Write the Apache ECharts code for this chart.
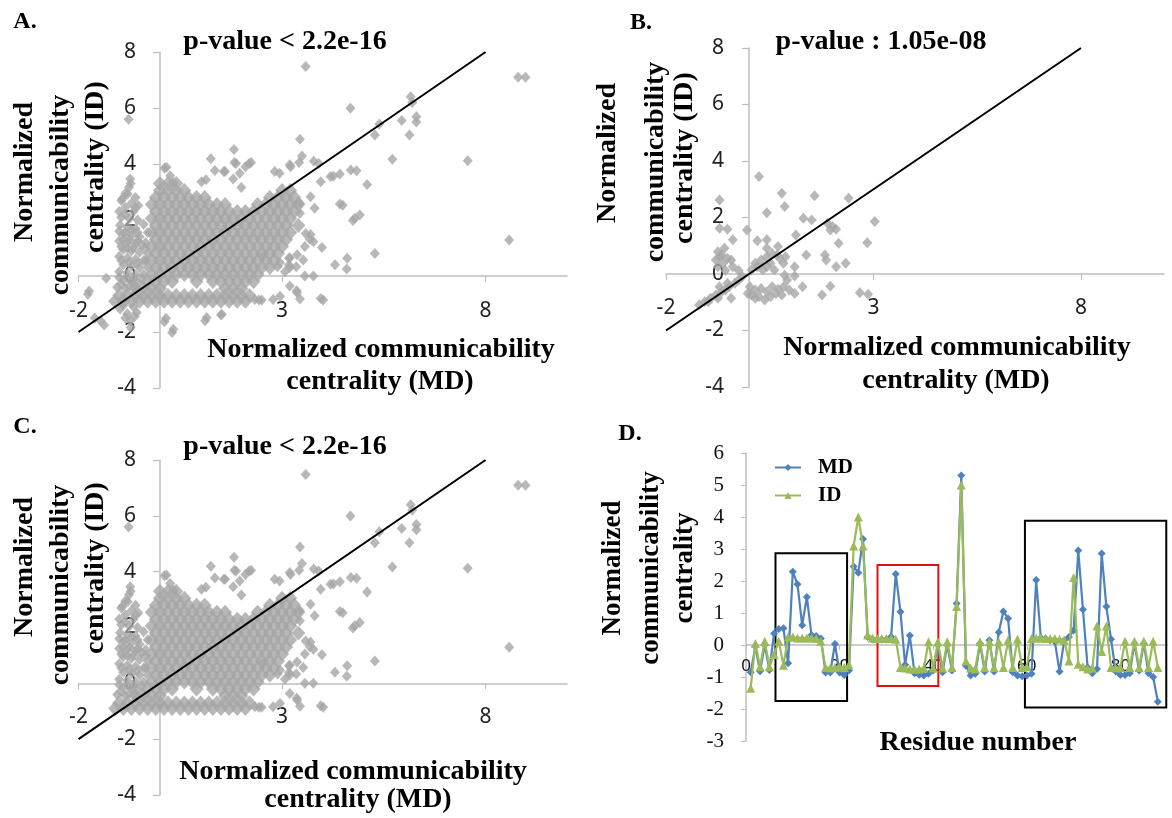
<!DOCTYPE html>
<html><head><meta charset="utf-8">
<script src="https://cdn.jsdelivr.net/npm/echarts@6.0.0/dist/echarts.min.js"></script>
<style>html,body{margin:0;padding:0;background:#fff}#c{width:1172px;height:818px}</style>
</head><body><div id="c"></div>
<script>
// ---------- Panel A / C : dense cloud rows (y level -> x values)
const cloudY = [3.3, 3.05, 2.8, 2.55, 2.3, 2.05, 1.8, 1.55, 1.3, 1.05, 0.8, 0.55, 0.3, 0.05, -0.2, -0.45, -0.7, -0.9];
const cloudX = [
  [0.0, 0.2, 0.4],
  [0.0, 0.2, 0.4, 0.6, 3.0, 3.2],
  [-0.1, 0.1, 0.3, 0.5, 0.7, 0.9, 1.1, 2.7, 2.9, 3.1, 3.3],
  [-0.2, 0.0, 0.2, 0.4, 0.6, 0.8, 1.0, 1.2, 1.4, 1.6, 2.4, 2.6, 2.8, 3.0, 3.2, 3.4],
  [-0.1, 0.1, 0.3, 0.5, 0.7, 0.9, 1.1, 1.3, 1.5, 1.7, 1.9, 2.1, 2.3, 2.5, 2.7, 2.9, 3.1, 3.3],
  [-0.2, 0.0, 0.2, 0.4, 0.6, 0.8, 1.0, 1.2, 1.4, 1.6, 1.8, 2.0, 2.2, 2.4, 2.6, 2.8, 3.0, 3.2],
  [-0.1, 0.1, 0.3, 0.5, 0.7, 0.9, 1.1, 1.3, 1.5, 1.7, 1.9, 2.1, 2.3, 2.5, 2.7, 2.9, 3.1, 3.4],
  [-0.2, 0.0, 0.2, 0.4, 0.6, 0.8, 1.0, 1.2, 1.4, 1.6, 1.8, 2.0, 2.2, 2.4, 2.6, 2.8, 3.0, 3.2],
  [-0.1, 0.1, 0.3, 0.5, 0.7, 0.9, 1.1, 1.3, 1.5, 1.7, 1.9, 2.1, 2.3, 2.5, 2.7, 2.9, 3.1],
  [-0.2, 0.0, 0.2, 0.4, 0.6, 0.8, 1.0, 1.2, 1.4, 1.6, 1.8, 2.0, 2.2, 2.4, 2.6, 2.8, 3.0],
  [-0.1, 0.1, 0.3, 0.5, 0.7, 0.9, 1.1, 1.3, 1.5, 1.7, 1.9, 2.1, 2.3, 2.5, 2.7, 2.9],
  [-0.2, 0.0, 0.2, 0.4, 0.6, 0.8, 1.0, 1.2, 1.4, 1.6, 1.8, 2.0, 2.2, 2.4, 2.6, 2.8],
  [-0.1, 0.1, 0.3, 0.5, 0.7, 0.9, 1.1, 1.3, 1.5, 1.7, 1.9, 2.1, 2.3, 2.5, 2.7],
  [-0.2, 0.0, 0.2, 0.4, 0.6, 0.8, 1.0, 1.2, 1.4, 1.6, 1.8, 2.0, 2.2, 2.4],
  [-0.3, -0.1, 0.1, 0.3, 0.9, 1.3, 1.5, 1.7, 1.9, 2.1, 2.3],
  [-0.6, -0.4, -0.2, 0.0, 1.6, 1.8, 2.0],
  [-1.0, -0.8, -0.6, -0.4, -0.2, 0.0, 0.2, 0.4, 0.6, 0.8, 1.0, 1.2, 1.4, 1.6, 1.8, 2.0, 2.2],
  [-1.1, -0.9, -0.7, -0.5, -0.3, -0.1, 0.1, 0.3, 0.5, 0.7, 0.9, 1.1, 1.3, 1.5, 1.7, 1.9, 2.1]
];
const leftSmear = [[-0.77,5.6],[-0.73,3.46],[-0.72,3.3],[-0.76,3.17],[-0.79,2.93],[-0.92,2.76],[-0.95,2.7],[-0.53,2.52],[-0.85,2.45],[-0.65,2.3],[-0.95,2.1],[-0.75,2.05],[-0.55,2.0],[-0.98,1.81],[-0.8,1.75],[-0.6,1.7],[-0.9,1.5],[-0.7,1.45],[-0.5,1.4],[-1.0,1.25],[-0.8,1.2],[-0.6,1.15],[-0.9,0.95],[-0.7,0.9],[-0.5,0.85],[-0.3,0.8],[-1.0,0.7],[-0.8,0.65],[-0.6,0.6],[-0.4,0.55],[-0.9,0.4],[-0.7,0.35],[-0.5,0.3],[-0.3,0.3],[-1.0,0.15],[-0.8,0.1],[-0.6,0.05],[-0.4,0.05],[-0.9,-0.15],[-0.7,-0.2],[-0.55,-0.25],[-1.05,-0.4],[-0.85,-0.45],
  [-1.0,2.3],[-0.85,2.2],[-0.7,2.6],[-0.6,2.45],[-1.0,1.6],[-0.85,1.55],[-0.7,1.65],[-0.55,1.55],[-0.95,1.05],[-0.8,1.0],[-0.65,1.0],[-0.45,1.1],[-0.35,1.2],[-0.95,0.55],[-0.75,0.5],[-0.55,0.45],[-0.35,0.55],[-1.0,-0.05],[-0.8,-0.05],[-0.65,-0.1],[-0.45,-0.1],[-0.95,-0.3],[-0.75,-0.35],[-0.6,-0.45],[-0.4,1.85],[-0.35,1.0],[-0.3,1.55],[-0.85,2.95],[-0.6,2.8],[-0.9,1.3],[-0.75,1.3],[-0.55,1.25]];
const sharedOutliers = [[3.58,7.48],[8.8,7.1],[8.98,7.1],[6.16,6.4],[6.2,6.2],[4.68,5.99],[5.39,5.43],[5.28,5.04],[5.94,5.55],[6.3,5.69],[6.3,5.5],[6.13,5.04],[3.44,4.88],[5.71,4.17],[7.56,4.12],[8.58,1.29],[1.82,4.52],[1.25,4.19],[1.83,4.05],[2.24,4.05],[1.35,3.77],[1.6,3.73],[1.13,3.44],[1.8,3.46],[2.0,3.16],[2.82,3.73],[3.19,3.97],[3.42,4.05],[3.78,4.1],[3.49,4.29],[3.9,4.02],[0.16,3.88],[0.25,3.58],[0.33,3.34],[3.95,3.37],[4.19,3.55],[4.26,3.56],[4.42,3.64],[4.69,3.79],[4.83,3.76],[5.09,3.27],[4.49,2.53],[4.42,2.57],[4.79,2.06],[4.91,2.18],[4.74,1.98],[5.28,0.8],[4.3,0.4],[4.59,0.25],[4.6,0.63],[3.98,1.02],[3.7,1.48],[3.77,1.22],[3.56,1.05],[3.19,0.65],[3.37,0.76],[2.95,0.47],[3.19,0.3],[3.56,0.0],[3.77,0.0],[3.36,-0.53],[3.44,-0.82],[3.19,-0.36],[3.95,-0.8],[4.01,-0.86],[3.37,-0.6],[2.95,-0.72],[2.78,-0.84],[2.33,-0.84],[2.5,-0.86],[2.43,-0.86],[3.7,2.83],[3.8,2.42],[3.44,2.6],[3.44,2.24],[3.58,1.52],[3.68,1.31],[3.17,0.63],[3.17,0.39],[3.35,0.33],[3.52,0.57],[2.89,0.33],[3.07,0.15],[2.52,0.69],[1.02,3.37],[0.11,3.85],[1.87,4.02],[2.1,3.9],[2.19,4.02],[2.94,3.67],[3.21,3.9],[1.57,3.73],[1.96,3.67]];
const aOnlyLow = [[0.3,-2.02],[0.11,-1.63],[1.11,-1.6],[1.5,-1.39],[0.15,-1.51],[0.33,-1.9],[1.15,-1.48],[1.52,-1.37],[-1.77,-0.65],[-1.74,-0.54],[-1.32,-0.08],[-1.46,-1.6],[-1.37,-1.75],[-1.6,-1.5],[-0.72,-1.84],[-0.98,-1.18],[-0.73,-1.6],[-0.57,-1.3],[-0.8,-1.35],[-0.65,-1.1],[-0.9,-1.05],[-0.85,-1.5],[-0.62,-1.45]];

// ---------- Panel B
const bPoints = [[0.24,3.45],[-0.71,2.62],[0.79,2.86],[0.86,2.39],[0.43,2.17],[1.58,2.77],[2.4,2.68],[1.31,1.97],[1.51,1.91],[-0.05,1.56],[-0.71,1.62],[-0.52,1.58],[1.13,1.38],[1.89,1.8],[2.01,1.68],[3.03,1.86],[1.96,1.56],[2.1,1.58],[2.85,1.11],[2.16,1.09],[0.2,1.18],[0.43,1.21],[-0.39,1.21],[-0.59,0.91],[1.38,0.67],[1.83,0.67],[1.86,0.5],[2.1,0.26],[2.33,0.38],[1.1,0.26],[0.86,-0.04],[1.1,-0.07],[1.29,-0.45],[1.76,-0.74],[1.96,-0.43],[2.67,-0.66],[2.87,-0.72],
  [-0.75,0.79],[-0.66,0.67],[-0.52,0.56],[-0.8,0.5],[-0.62,0.38],[-0.43,0.5],[-0.75,0.26],[-0.57,0.12],[-0.39,0.26],[-0.25,0.12],[-0.7,0.6],
  [0.15,0.38],[0.29,0.5],[0.43,0.61],[0.56,0.73],[0.68,0.67],[0.74,0.56],[0.52,0.38],[0.43,0.26],[0.33,0.14],[0.2,0.26],[0.06,0.14],[0.88,0.61],[0.83,0.38],[0.61,0.14],[0.7,0.97],[0.43,0.91],
  [0.02,-0.45],[0.15,-0.57],[0.29,-0.51],[0.43,-0.63],[0.56,-0.45],[0.7,-0.54],[0.79,-0.74],[0.97,-0.57],[1.1,-0.69],[0.06,-0.74],[0.24,-0.8],[0.38,-0.92],[0.52,-0.8],[0.65,-0.69],[0.15,-0.86],[-0.03,-0.69],[0.83,-0.45],[0.92,-0.21],
  [-1.2,-1.1],[-1.07,-0.98],[-0.93,-0.86],[-0.8,-0.74],[-0.66,-0.63],[-0.71,-0.45],[-0.57,-0.57],[-0.48,-0.45],[-0.34,-0.33],[-0.25,-0.21],[-0.16,-0.09],[-0.52,-0.33],[-0.43,-0.86],[-0.98,-0.98],[-0.75,-0.86]];

// identity reference line (y = x)
const diagX = [-2, 8];
const diagY = [-2, 8];

// ---------- Panel D
const residues = [1,2,3,4,5,6,7,8,9,10,11,12,13,14,15,16,17,18,19,20,21,22,23,24,25,26,27,28,29,30,31,32,33,34,35,36,37,38,39,40,41,42,43,44,45,46,47,48,49,50,51,52,53,54,55,56,57,58,59,60,61,62,63,64,65,66,67,68,69,70,71,72,73,74,75,76,77,78,79,80,81,82,83,84,85,86,87,88];
const mdValues = [-0.85,-0.05,-0.82,0.0,-0.78,0.36,0.5,0.52,-0.57,2.29,1.9,0.62,1.5,0.31,0.28,0.2,-0.86,-0.86,0.03,-0.86,-0.94,-0.8,2.45,2.26,3.31,0.25,0.17,0.17,0.17,0.17,0.26,2.22,1.04,-0.62,0.3,-0.88,-0.93,-0.95,-0.9,-0.8,0.0,-0.85,0.0,-0.8,1.3,5.3,-0.65,-0.95,-0.9,0.05,-0.83,0.15,-0.83,0.4,1.05,0.83,-0.85,-0.95,-0.98,-0.95,-0.9,2.03,0.22,0.2,0.15,0.1,-0.83,0.15,0.25,0.45,2.95,1.11,-0.7,-0.88,-0.75,2.86,1.2,0.18,-0.83,-0.94,-0.94,-0.88,0.05,-0.8,0.05,-0.88,-1.0,-1.77];
const idValues = [-1.35,0.05,-0.68,0.12,-0.68,-0.3,0.12,-0.63,0.25,0.25,0.22,0.22,0.22,0.22,0.2,0.12,-0.7,-0.72,-0.7,-0.68,-0.7,-0.62,3.09,4.0,3.09,0.31,0.22,0.2,0.2,0.2,0.2,0.18,-0.7,-0.72,-0.75,-0.75,-0.75,-0.72,0.1,-0.72,0.1,-0.72,0.1,-0.7,1.2,5.0,-0.5,-0.72,-0.75,0.1,-0.7,0.1,-0.7,0.1,-0.7,0.15,-0.7,0.18,-0.7,-0.68,0.2,0.22,0.22,0.2,0.2,0.2,0.18,0.15,-0.5,2.11,-0.6,-0.68,-0.75,-0.72,0.59,-0.2,0.59,-0.7,-0.72,-0.7,0.12,-0.7,0.12,-0.7,0.12,-0.7,0.12,-0.7];
// highlighted regions [x0, y0, x1, y1]
const boxBlack1 = [6.3, 2.87, 21.6, -1.75];
const boxRed = [28.1, 2.5, 41.1, -1.28];
const boxBlack2 = [59.6, 3.88, 89.8, -1.95];

// ---------- build
function rowsToPoints(ys, xs) { const out = []; ys.forEach((y, i) => xs[i].forEach(x => out.push([x, y]))); return out; }
const cloud = rowsToPoints(cloudY, cloudX);
const extraA = leftSmear.concat(sharedOutliers, aOnlyLow);
const extraC = leftSmear.concat(sharedOutliers);
const diag = diagX.map((x, i) => [x, diagY[i]]);
const mdData = residues.map((r, i) => [r, mdValues[i]]);
const idData = residues.map((r, i) => [r, idValues[i]]);

const AX = '#bfbfbf';
const SERIF = '"Liberation Serif", "Times New Roman", serif';
const SANS = '"Noto Sans", sans-serif';

const grids = [
  { left: 78.5, top: 52, width: 488.5, height: 336 },
  { left: 666, top: 48, width: 498, height: 339 },
  { left: 78.5, top: 460, width: 488.5, height: 335 },
  { left: 746, top: 453, width: 421.2, height: 288 }
].map(g => Object.assign({ outerBoundsMode: 'none', containLabel: false }, g));

// label margins are measured from the grid edge (labels stay there in this version)
function sx(i, m) {
  return { type: 'value', gridIndex: i, min: -2, max: 10, interval: 5,
    axisLine: { show: true, onZero: true, lineStyle: { color: AX, width: 1.5 } },
    axisTick: { show: true, length: 6, lineStyle: { color: AX, width: 1.2 } },
    axisLabel: { margin: m, fontFamily: SANS, fontSize: 21, color: '#222', showMaxLabel: false },
    splitLine: { show: false } };
}
function sy(i, m) {
  return { type: 'value', gridIndex: i, min: -4, max: 8, interval: 2,
    axisLine: { show: true, onZero: true, lineStyle: { color: AX, width: 1.5 } },
    axisTick: { show: true, length: 7, lineStyle: { color: AX, width: 1.2 } },
    axisLabel: { margin: m, fontFamily: SANS, fontSize: 21, color: '#222' },
    splitLine: { show: false } };
}
function scat(i, data, size) {
  return { type: 'scatter', xAxisIndex: i, yAxisIndex: i, data: data, symbol: 'diamond', symbolSize: size,
    itemStyle: { color: '#a6a6a6' }, silent: true, z: 2 };
}
function diagLine(i) {
  return { type: 'line', xAxisIndex: i, yAxisIndex: i, data: diag, symbol: 'none',
    lineStyle: { color: '#000', width: 2 }, silent: true, z: 3 };
}
function box(b, color) {
  return [{ coord: [b[0], b[1]], itemStyle: { color: 'rgba(0,0,0,0)', borderColor: color, borderWidth: 2 } }, { coord: [b[2], b[3]] }];
}

const texts = [
  { t: 'A.', x: 25, y: 22, s: 24 },
  { t: 'p-value < 2.2e-16', x: 285, y: 42, s: 28 },
  { t: 'Normalized', x: 25, y: 172, s: 28, r: 1 },
  { t: 'communicability', x: 61, y: 195, s: 28, r: 1 },
  { t: 'centrality (ID)', x: 96, y: 167, s: 28, r: 1 },
  { t: 'Normalized communicability', x: 381, y: 350, s: 28 },
  { t: 'centrality (MD)', x: 380, y: 382, s: 28 },
  { t: 'B.', x: 641, y: 23, s: 24 },
  { t: 'p-value : 1.05e-08', x: 881, y: 42, s: 28 },
  { t: 'Normalized', x: 608, y: 153, s: 28, r: 1 },
  { t: 'communicability', x: 656, y: 162, s: 28, r: 1 },
  { t: 'centrality (ID)', x: 685, y: 158, s: 28, r: 1 },
  { t: 'Normalized communicability', x: 957, y: 348, s: 28 },
  { t: 'centrality (MD)', x: 956, y: 381, s: 28 },
  { t: 'C.', x: 25, y: 427, s: 24 },
  { t: 'p-value < 2.2e-16', x: 285, y: 447, s: 28 },
  { t: 'Normalized', x: 25, y: 567, s: 28, r: 1 },
  { t: 'communicability', x: 61, y: 585, s: 28, r: 1 },
  { t: 'centrality (ID)', x: 96, y: 568, s: 28, r: 1 },
  { t: 'Normalized communicability', x: 353, y: 772, s: 28 },
  { t: 'centrality (MD)', x: 358, y: 800, s: 28 },
  { t: 'D.', x: 630, y: 434, s: 24 },
  { t: 'Normalized', x: 613, y: 568, s: 27, r: 1 },
  { t: 'communicability', x: 651, y: 568, s: 27, r: 1 },
  { t: 'centrality', x: 685, y: 568, s: 27, r: 1 },
  { t: 'Residue number', x: 978, y: 743, s: 28 }
];

const option = {
  animation: false,
  backgroundColor: '#fff',
  grid: grids,
  xAxis: [sx(0, -87.5), sx(1, -89.5), sx(2, -88), {
    type: 'value', gridIndex: 3, min: 0, max: 90, interval: 20,
    axisLine: { show: true, onZero: true, lineStyle: { color: AX, width: 1.5 } },
    axisTick: { show: true, length: 5, lineStyle: { color: AX } },
    axisLabel: { margin: -83, fontFamily: SANS, fontSize: 17, color: '#111', showMaxLabel: false },
    splitLine: { show: false } }],
  yAxis: [sy(0, -57.5), sy(1, -58), sy(2, -57.5), {
    type: 'value', gridIndex: 3, min: -3, max: 6, interval: 1,
    axisLine: { show: true, onZero: true, lineStyle: { color: AX, width: 1.5 } },
    axisTick: { show: true, length: 5, lineStyle: { color: AX } },
    axisLabel: { margin: 22, fontFamily: SERIF, fontSize: 21, color: '#111' },
    splitLine: { show: false } }],
  legend: {
    data: ['MD', 'ID'], orient: 'vertical', left: 769, top: 452, itemWidth: 26, itemHeight: 9, itemGap: 7,
    textStyle: { fontFamily: SERIF, fontWeight: 'bold', fontSize: 21, color: '#000', padding: [0, 0, 0, 12] }
  },
  series: [
    scat(0, cloud, [14, 15]), scat(0, extraA, [10, 11]), diagLine(0),
    scat(1, bPoints, [10, 11]), diagLine(1),
    scat(2, cloud, [14, 15]), scat(2, extraC, [10, 11]), diagLine(2),
    { type: 'line', name: 'MD', xAxisIndex: 3, yAxisIndex: 3, data: mdData, symbol: 'diamond', symbolSize: 8,
      lineStyle: { color: '#4f81bd', width: 2.2 }, itemStyle: { color: '#4f81bd' }, z: 3,
      markArea: { silent: true, data: [box(boxBlack1, '#000'), box(boxRed, '#e01010'), box(boxBlack2, '#000')] } },
    { type: 'line', name: 'ID', xAxisIndex: 3, yAxisIndex: 3, data: idData, symbol: 'triangle', symbolSize: 9,
      lineStyle: { color: '#9bbb59', width: 2.2 }, itemStyle: { color: '#9bbb59' }, z: 4 }
  ],
  graphic: texts.map(o => ({
    type: 'text', x: o.x, y: o.y, rotation: o.r ? Math.PI / 2 : 0, z: 10,
    style: { text: o.t, fontFamily: SERIF, fontWeight: 'bold', fontSize: o.s, fill: '#000', align: 'center', verticalAlign: 'middle' }
  }))
};

const chart = echarts.init(document.getElementById('c'), null, { renderer: 'canvas' });
chart.setOption(option);
</script></body></html>
